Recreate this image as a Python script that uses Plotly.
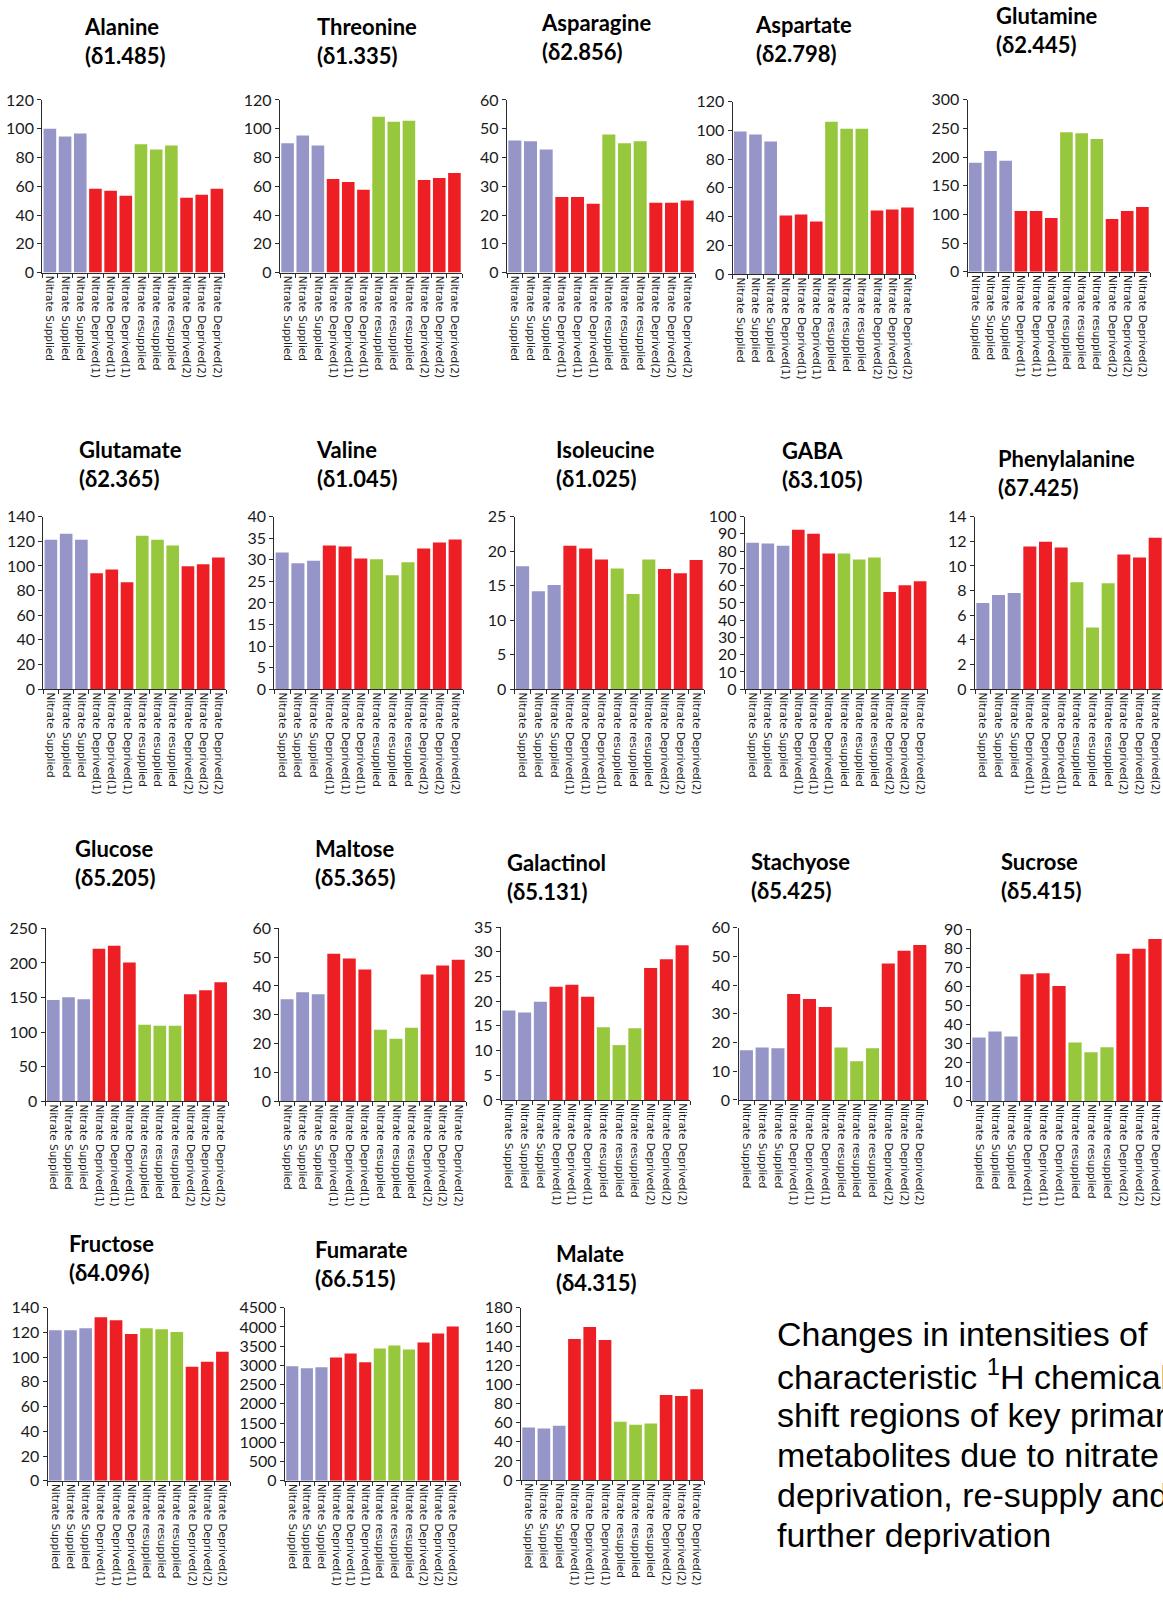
import plotly.graph_objects as go

W, H = 1163, 1607

# ---------------- data ----------------
categories = (["Nitrate Supplied"] * 3 + ["Nitrate Deprived(1)"] * 3 +
              ["Nitrate resupplied"] * 3 + ["Nitrate Deprived(2)"] * 3)
groups = (["supplied"] * 3 + ["deprived1"] * 3 + ["resupplied"] * 3 + ["deprived2"] * 3)

alanine = [100, 94.6, 96.6, 58.2, 56.8, 53.4, 89.1, 85.6, 88.4, 52.0, 54.0, 58.2]
threonine = [89.8, 95.3, 88.4, 65.0, 63.0, 57.5, 108.3, 104.9, 105.6, 64.3, 65.7, 69.2]
asparagine = [45.9, 45.6, 42.8, 26.3, 26.3, 23.9, 48.0, 44.9, 45.6, 24.3, 24.3, 25.0]
aspartate = [99.2, 97.1, 92.3, 40.8, 41.4, 36.6, 106.0, 101.2, 101.2, 44.2, 44.9, 46.3]
glutamine = [190, 210.7, 193.5, 105.9, 105.9, 93.9, 243.3, 241.6, 231.3, 92.2, 105.9, 112.8]
glutamate = [121.3, 126.1, 121.3, 94.0, 97.2, 86.8, 124.5, 121.3, 116.5, 99.7, 101.3, 106.9]
valine = [31.7, 29.2, 29.8, 33.3, 33.1, 30.3, 30.1, 26.4, 29.4, 32.6, 34.0, 34.7]
isoleucine = [17.8, 14.2, 15.1, 20.8, 20.4, 18.8, 17.5, 13.8, 18.8, 17.4, 16.8, 18.7]
gaba = [84.9, 84.4, 83.2, 92.4, 90.1, 78.6, 78.6, 75.2, 76.3, 56.3, 60.3, 62.6]
phenylalanine = [7.0, 7.64, 7.8, 11.57, 11.97, 11.49, 8.68, 5.0, 8.6, 10.93, 10.69, 12.29]
glucose = [146.2, 150.5, 147.6, 220.5, 224.8, 200.5, 110.5, 109.0, 109.0, 154.8, 160.5, 171.9]
maltose = [35.4, 37.8, 37.1, 51.2, 49.5, 45.7, 24.8, 21.7, 25.5, 44.0, 47.1, 49.1]
galactinol = [18.1, 17.7, 19.9, 22.9, 23.3, 20.9, 14.7, 11.1, 14.5, 26.7, 28.5, 31.3]
stachyose = [17.3, 18.3, 18.0, 36.9, 35.2, 32.4, 18.3, 13.5, 18.0, 47.5, 52.0, 54.0]
sucrose = [33.2, 36.3, 33.7, 66.3, 66.8, 60.1, 30.6, 25.5, 28.1, 77.1, 79.7, 84.8]
fructose = [121.9, 121.9, 123.5, 132.3, 129.9, 118.7, 123.5, 122.7, 120.3, 92.3, 96.3, 104.3]
fumarate = [2977, 2925, 2951, 3209, 3313, 3080, 3442, 3519, 3416, 3597, 3829, 4010]
malate = [54.9, 53.8, 56.9, 147.4, 159.8, 146.4, 61.0, 57.9, 59.0, 88.8, 87.8, 95.0]

names = ["Alanine", "Threonine", "Asparagine", "Aspartate", "Glutamine",
         "Glutamate", "Valine", "Isoleucine", "GABA", "Phenylalanine",
         "Glucose", "Maltose", "Galactinol", "Stachyose", "Sucrose",
         "Fructose", "Fumarate", "Malate"]
shifts = ["δ1.485", "δ1.335", "δ2.856", "δ2.798", "δ2.445",
          "δ2.365", "δ1.045", "δ1.025", "δ3.105", "δ7.425",
          "δ5.205", "δ5.365", "δ5.131", "δ5.425", "δ5.415",
          "δ4.096", "δ6.515", "δ4.315"]
series = [alanine, threonine, asparagine, aspartate, glutamine,
          glutamate, valine, isoleucine, gaba, phenylalanine,
          glucose, maltose, galactinol, stachyose, sucrose,
          fructose, fumarate, malate]
y_max = [120, 120, 60, 120, 300, 140, 40, 25, 100, 14, 250, 60, 35, 60, 90, 140, 4500, 180]
y_step = [20, 20, 10, 20, 50, 20, 5, 5, 10, 2, 50, 10, 5, 10, 10, 20, 500, 20]

caption_lines = ["Changes in intensities of",
                 "characteristic <sup>1</sup>H chemical",
                 "shift regions of key primary",
                 "metabolites due to nitrate",
                 "deprivation, re-supply and",
                 "further deprivation"]

# ---------------- styling / layout ----------------
group_colors = {"supplied": "#9595C8", "deprived1": "#ED1F24",
                "resupplied": "#97C73C", "deprived2": "#ED1F24"}

# panel boxes in pixels: x0, x1, ytop, ybottom ; title left x, title middle y
panels = [
    (42.3, 224.5, 91.0, 265.7, 82, 43),
    (280.0, 462.0, 91.0, 265.7, 315, 43),
    (507.0, 695.0, 91.0, 265.7, 539, 39),
    (732.7, 915.0, 92.7, 267.3, 753, 40.5),
    (967.7, 1150.0, 90.7, 265.0, 994, 32),
    (43.3, 226.0, 512.7, 687.3, 77, 471),
    (274.3, 463.0, 512.7, 687.3, 314, 471),
    (514.7, 704.0, 512.7, 687.3, 554, 471),
    (745.0, 927.7, 512.7, 687.3, 780, 472),
    (975.0, 1163.0, 512.7, 687.3, 996, 480),
    (45.7, 228.3, 929.3, 1104.3, 73, 875),
    (279.3, 466.0, 929.3, 1104.3, 313, 875),
    (501.0, 690.0, 928.0, 1103.0, 505, 888.5),
    (738.5, 927.7, 928.7, 1103.0, 749, 888),
    (971.0, 1163.0, 930.0, 1104.0, 999, 888),
    (47.7, 230.0, 1313.3, 1488.3, 67, 1274.5),
    (285.0, 460.0, 1313.3, 1488.3, 313, 1281),
    (521.0, 704.3, 1313.3, 1487.7, 554, 1284.5),
]
title_shift = -11.5
caption_x = 775
caption_y = [1340, 1381, 1422, 1462, 1503, 1543]

axis_col = "#2b2b2b"
tick_font = dict(family="Lato, sans-serif", size=16, color="#1a1a1a")
xlab_font = dict(family="DejaVu Sans, sans-serif", size=10.5, color="#1a1a1a")

fig = go.Figure()
layout = dict(width=W, height=H, margin=dict(l=0, r=0, t=0, b=0), autosize=False,
              paper_bgcolor="white", plot_bgcolor="white", showlegend=False,
              bargap=0.17)
annotations = []
xpos = list(range(len(categories)))

for i, (name, shift, vals, ym, ys) in enumerate(zip(names, shifts, series, y_max, y_step)):
    k = i + 1
    x0, x1, yt, yb, tx, ty = panels[i]
    fig.add_trace(go.Bar(x=xpos, y=vals, marker_color=[group_colors[g] for g in groups],
                         marker_line_width=0, xaxis=f"x{k}", yaxis=f"y{k}", name=name))
    layout[f"xaxis{k}"] = dict(
        domain=[x0 / W, min(x1 / W, 1.0)], anchor=f"y{k}", range=[-0.5, 11.5],
        tickmode="array", tickvals=xpos, ticktext=categories, tickangle=90,
        ticks="", showline=True, linecolor=axis_col, linewidth=1.3,
        showgrid=False, zeroline=False, tickfont=xlab_font,
        minor=dict(tick0=-0.5, dtick=1, ticks="outside", ticklen=4,
                   tickwidth=1, tickcolor=axis_col, showgrid=False))
    layout[f"yaxis{k}"] = dict(
        domain=[1 - yb / H, 1 - yt / H], anchor=f"x{k}", range=[0, ym],
        tick0=0, dtick=ys, ticks="outside", ticklen=4, tickwidth=1, tickcolor=axis_col,
        showline=True, linecolor=axis_col, linewidth=1.3, showgrid=False, zeroline=False,
        tickfont=tick_font)
    annotations.append(dict(
        xref="paper", yref="paper", x=tx / W, y=1 - (ty + title_shift) / H,
        xanchor="left", yanchor="middle", align="left", showarrow=False,
        text=f"<b>{name}</b><br><b>({shift})</b>",
        font=dict(family="Lato, sans-serif", size=22, color="black")))

for line, cy in zip(caption_lines, caption_y):
    annotations.append(dict(
        xref="paper", yref="paper", x=caption_x / W, y=1 - cy / H,
        xanchor="left", yanchor="middle", align="left", showarrow=False, text=line,
        font=dict(family="Liberation Sans, Arial, sans-serif", size=34, color="black")))

layout["annotations"] = annotations
fig.update_layout(**layout)
fig.write_html("out.html")
